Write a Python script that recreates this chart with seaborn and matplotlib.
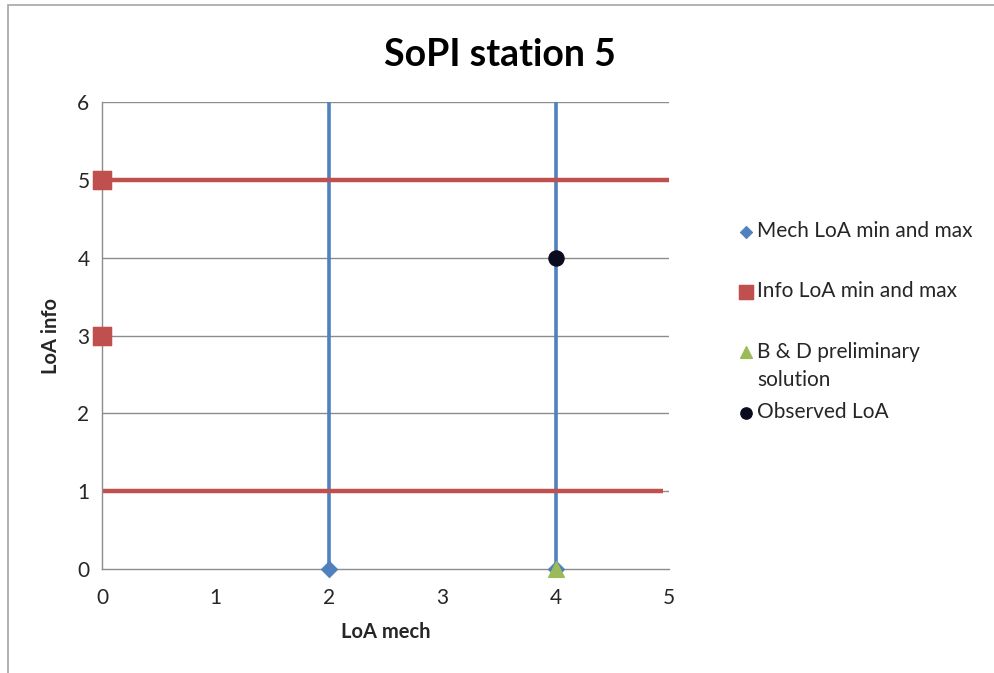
import matplotlib
matplotlib.use("Agg")
import matplotlib.pyplot as plt
import seaborn as sns
import pandas as pd
from matplotlib.patches import Rectangle

# Series data
mech_x = [2, 4]
mech_y = [0, 0]
mech_ymax = [6, 6]

info_x = [0, 0]
info_y = [5, 3]
info_line_y = [5, 1]
info_line_xmax = [5, 4.95]

bd_x = [4]
bd_y = [0]

obs_x = [4]
obs_y = [4]

x_ticks = [0, 1, 2, 3, 4, 5]
y_ticks = [0, 1, 2, 3, 4, 5, 6]

BLUE = "#4F81BD"
RED = "#C0504D"
GREEN = "#9BBB59"
BLACK = "#0B0B1E"
GRID = "#8C8C8C"

sns.set_style("white")
plt.rcParams["font.family"] = ["Lato", "DejaVu Sans"]

fig = plt.figure(figsize=(9.94, 6.73), dpi=100)
ax = fig.add_axes([0.1026, 0.1545, 0.5705, 0.6939])

# chart border
fig.patches.append(Rectangle((8 / 994, -0.02), 1.1, 1 - 5 / 673 + 0.02,
                             transform=fig.transFigure, fill=False,
                             edgecolor="#A6A6A6", linewidth=1.2))

# horizontal gridlines
for yv in y_ticks[1:]:
    ax.axhline(yv, color=GRID, lw=1.0, zorder=0)

# mech range lines (vertical)
ax.vlines(mech_x, mech_y, mech_ymax, color=BLUE, lw=2.6, zorder=2)
# info range lines (horizontal)
ax.hlines(info_line_y, [0] * len(info_line_y), info_line_xmax, color=RED, lw=3.2, zorder=2)

mech_df = pd.DataFrame({"x": mech_x, "y": mech_y})
info_df = pd.DataFrame({"x": info_x, "y": info_y})
bd_df = pd.DataFrame({"x": bd_x, "y": bd_y})
obs_df = pd.DataFrame({"x": obs_x, "y": obs_y})

sns.scatterplot(data=mech_df, x="x", y="y", marker="D", s=70, color=BLUE,
                edgecolor=BLUE, ax=ax, zorder=4, label="Mech LoA min and max", clip_on=False)
sns.scatterplot(data=info_df, x="x", y="y", marker="s", s=180, color=RED,
                edgecolor=RED, ax=ax, zorder=4, label="Info LoA min and max", clip_on=False)
sns.scatterplot(data=bd_df, x="x", y="y", marker="^", s=130, color=GREEN,
                edgecolor=GREEN, ax=ax, zorder=5, label="B & D preliminary", clip_on=False)
sns.scatterplot(data=obs_df, x="x", y="y", marker="o", s=120, color=BLACK,
                edgecolor=BLACK, ax=ax, zorder=5, label="Observed LoA", clip_on=False)

ax.set_xlim(0, 5)
ax.set_ylim(0, 6)
ax.set_xticks(x_ticks)
ax.set_yticks(y_ticks)
ax.set_xticklabels([str(v) for v in x_ticks], fontsize=15, color="#262626")
ax.set_yticklabels([str(v) for v in y_ticks], fontsize=15, color="#262626")

for side in ["top", "right"]:
    ax.spines[side].set_visible(False)
for side in ["left", "bottom"]:
    ax.spines[side].set_color(GRID)
    ax.spines[side].set_linewidth(1.0)
ax.tick_params(axis="x", direction="out", length=7, width=1.0, color=GRID, pad=7)
ax.tick_params(axis="y", direction="out", length=5, width=1.0, color=GRID, pad=4)

ax.set_xlabel("LoA mech", fontsize=14.5, fontweight="bold", labelpad=10)
ax.set_ylabel("LoA info", fontsize=14.5, fontweight="bold", labelpad=12)

fig.text(0.503, 0.919, "SoPI station 5", ha="center", va="center",
         fontsize=27, fontweight="bold", color="black")

leg = ax.legend(loc="center left", bbox_to_anchor=(0.722, 0.522),
                bbox_transform=fig.transFigure, frameon=False, fontsize=15,
                labelspacing=1.94, handletextpad=0.1, handlelength=0.9,
                markerscale=0.75)

# wrapped second line of the third legend entry, hanging below its slot
fig.canvas.draw()
bd_text = leg.get_texts()[2]
bb = bd_text.get_window_extent()
fig.text(bb.x0, bb.y0 - 28, "solution", transform=None, ha="left", va="bottom",
         fontsize=15, color=bd_text.get_color(), fontfamily=bd_text.get_fontfamily())

fig.savefig("out.png", dpi=100)
